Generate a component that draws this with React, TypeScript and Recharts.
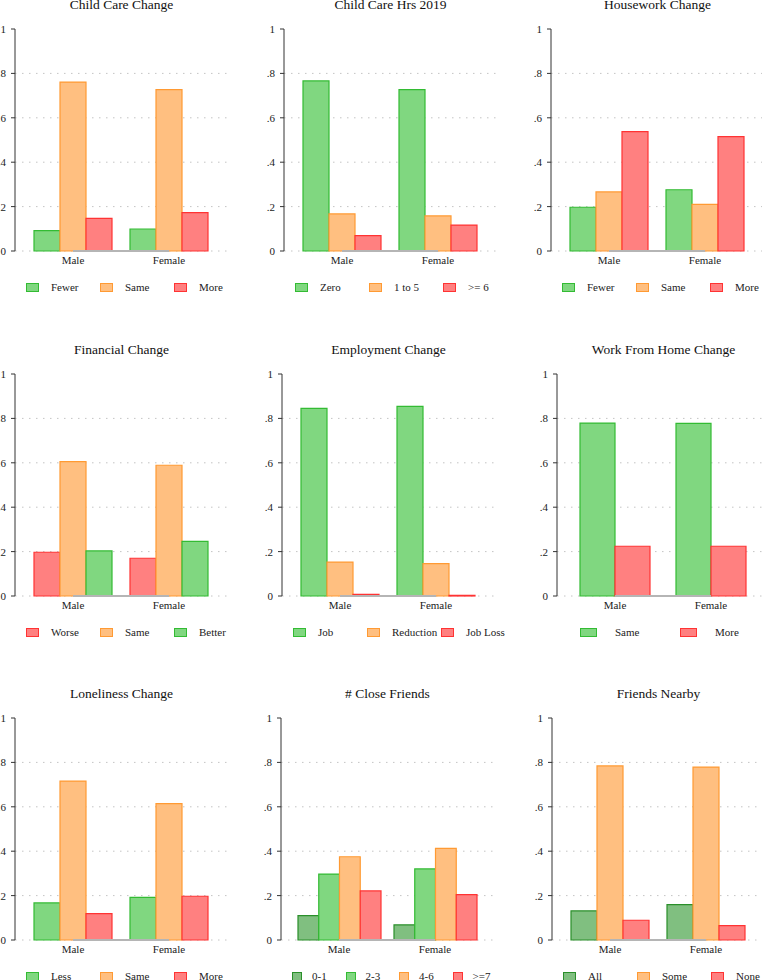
import React from 'react';
import { BarChart, Bar, XAxis, YAxis, CartesianGrid, ReferenceLine } from 'recharts';

// categories on the x axis
const groups = ['Male', 'Female'];
const yTicks = [0, 0.2, 0.4, 0.6, 0.8, 1];
const gridVals = [0, 0.2, 0.4, 0.6, 0.8];

// rows = Male, Female ; columns = series
const childCareChangeLabels = ['Fewer', 'Same', 'More'];
const childCareChangeValues = [[0.092, 0.761, 0.147], [0.099, 0.727, 0.173]];

const childCareHrsLabels = ['Zero', '1 to 5', '>= 6'];
const childCareHrsValues = [[0.766, 0.167, 0.069], [0.727, 0.158, 0.117]];

const houseworkLabels = ['Fewer', 'Same', 'More'];
const houseworkValues = [[0.197, 0.266, 0.538], [0.276, 0.21, 0.515]];

const financialLabels = ['Worse', 'Same', 'Better'];
const financialValues = [[0.197, 0.605, 0.203], [0.17, 0.589, 0.246]];

const employmentLabels = ['Job', 'Reduction', 'Job Loss'];
const employmentValues = [[0.845, 0.153, 0.007], [0.854, 0.146, 0.003]];

const wfhLabels = ['Same', 'More'];
const wfhValues = [[0.779, 0.224], [0.778, 0.224]];

const lonelinessLabels = ['Less', 'Same', 'More'];
const lonelinessValues = [[0.167, 0.716, 0.119], [0.192, 0.614, 0.197]];

const closeFriendsLabels = ['0-1', '2-3', '4-6', '>=7'];
const closeFriendsValues = [[0.11, 0.297, 0.375, 0.221], [0.068, 0.32, 0.413, 0.204]];

const nearbyLabels = ['All', 'Some', 'None'];
const nearbyValues = [[0.131, 0.784, 0.089], [0.159, 0.779, 0.065]];

const COLORS: Record<string, { fill: string; stroke: string }> = {
  green: { fill: '#80d780', stroke: '#33bb33' },
  dkgreen: { fill: '#80bf80', stroke: '#2a8f2a' },
  orange: { fill: '#ffbf80', stroke: '#ff9a33' },
  red: { fill: '#ff8080', stroke: '#ff3333' },
};

const FONT = '"Liberation Serif", "Times New Roman", serif';
const PW = 213;
const PH = 222;
const YW = 30;
const TOP = 35;

const fmt = (v: number) => (v === 0 ? '0' : v === 1 ? '1' : String(v).replace('0.', '.'));

function Panel({ title, labels, values, colors, x, y }: any) {
  const data = groups.map((g, i) => {
    const row: any = { group: g };
    labels.forEach((_: string, j: number) => (row['s' + j] = values[i][j]));
    return row;
  });
  const n = labels.length;
  const barSize = n === 2 ? 35 : n === 3 ? 26 : 20.75;
  const leg =
    n === 2
      ? { off: 23, col: 100, sw: 17, gap: 18 }
      : n === 3
      ? { off: 11, col: 74, sw: 13, gap: 12 }
      : { off: 11, col: 53.5, sw: 10, gap: 10 };

  return (
    <div style={{ position: 'absolute', left: x - YW, top: y - TOP, width: YW + PW + 4, height: 300 }}>
      <div
        style={{
          position: 'absolute',
          left: YW,
          width: PW,
          top: TOP - 24 - 9,
          height: 18,
          lineHeight: '18px',
          textAlign: 'center',
          fontSize: 13.5,
          fontFamily: FONT,
          color: '#111',
          whiteSpace: 'nowrap',
        }}
      >
        {title}
      </div>
      <BarChart
        width={YW + PW + 4}
        height={TOP + PH + 30}
        data={data}
        margin={{ top: TOP, right: 4, left: 0, bottom: 0 }}
        barGap={0}
        barSize={barSize}
      >
        <CartesianGrid
          vertical={false}
          stroke="#c4c4c4"
          strokeDasharray="1.5 5.5"
          horizontalCoordinatesGenerator={({ yAxis, offset }: any) =>
            gridVals.map((v) =>
              yAxis && typeof yAxis.scale === 'function' ? yAxis.scale(v) : offset.top + (1 - v) * offset.height
            )
          }
        />
        <XAxis
          dataKey="group"
          height={30}
          axisLine={false}
          tickLine={false}
          tickSize={3}
          tickMargin={2}
          padding={{ left: 10, right: 11 }}
          tick={{ fontSize: 11, fontFamily: FONT, fill: '#222' }}
        />
        <YAxis
          width={YW}
          domain={[0, 1]}
          ticks={yTicks}
          interval={0}
          tickFormatter={fmt}
          axisLine={{ stroke: '#333' }}
          tickLine={{ stroke: '#333' }}
          tickSize={4}
          tickMargin={5}
          tick={{ fontSize: 11, fontFamily: FONT, fill: '#222' }}
        />
        <ReferenceLine
          segment={[
            { x: groups[0], y: 0 },
            { x: groups[1], y: 0 },
          ]}
          stroke="#b5b5b5"
          strokeWidth={2}
        />
        {labels.map((l: string, j: number) => (
          <Bar
            key={l}
            dataKey={'s' + j}
            name={l}
            fill={COLORS[colors[j]].fill}
            stroke={COLORS[colors[j]].stroke}
            strokeWidth={1.2}
            isAnimationActive={false}
          />
        ))}
      </BarChart>
      <div
        style={{
          position: 'absolute',
          top: TOP + PH + 36 - 7,
          left: YW + leg.off,
          display: 'flex',
          height: 14,
          fontFamily: FONT,
          fontSize: 11,
          color: '#222',
          whiteSpace: 'nowrap',
        }}
      >
        {labels.map((l: string, j: number) => (
          <div key={l} style={{ width: leg.col, display: 'flex', alignItems: 'center' }}>
            <div
              style={{
                width: leg.sw,
                height: 9,
                boxSizing: 'border-box',
                background: COLORS[colors[j]].fill,
                border: `1px solid ${COLORS[colors[j]].stroke}`,
                marginRight: leg.gap,
              }}
            />
            <span>{l}</span>
          </div>
        ))}
      </div>
    </div>
  );
}

export default function App() {
  return (
    <div
      style={{
        position: 'absolute',
        left: 0,
        top: 0,
        width: 762,
        height: 980,
        overflow: 'hidden',
        background: '#fff',
      }}
    >
      <Panel title="Child Care Change" labels={childCareChangeLabels} values={childCareChangeValues} colors={['green', 'orange', 'red']} x={15} y={29} />
      <Panel title="Child Care Hrs 2019" labels={childCareHrsLabels} values={childCareHrsValues} colors={['green', 'orange', 'red']} x={284} y={29} />
      <Panel title="Housework Change" labels={houseworkLabels} values={houseworkValues} colors={['green', 'orange', 'red']} x={551} y={29} />
      <Panel title="Financial Change" labels={financialLabels} values={financialValues} colors={['red', 'orange', 'green']} x={15} y={374} />
      <Panel title="Employment Change" labels={employmentLabels} values={employmentValues} colors={['green', 'orange', 'red']} x={282} y={374} />
      <Panel title="Work From Home Change" labels={wfhLabels} values={wfhValues} colors={['green', 'red']} x={557} y={374} />
      <Panel title="Loneliness Change" labels={lonelinessLabels} values={lonelinessValues} colors={['green', 'orange', 'red']} x={15} y={718} />
      <Panel title="# Close Friends" labels={closeFriendsLabels} values={closeFriendsValues} colors={['dkgreen', 'green', 'orange', 'red']} x={281} y={718} />
      <Panel title="Friends Nearby" labels={nearbyLabels} values={nearbyValues} colors={['dkgreen', 'orange', 'red']} x={552} y={718} />
    </div>
  );
}
